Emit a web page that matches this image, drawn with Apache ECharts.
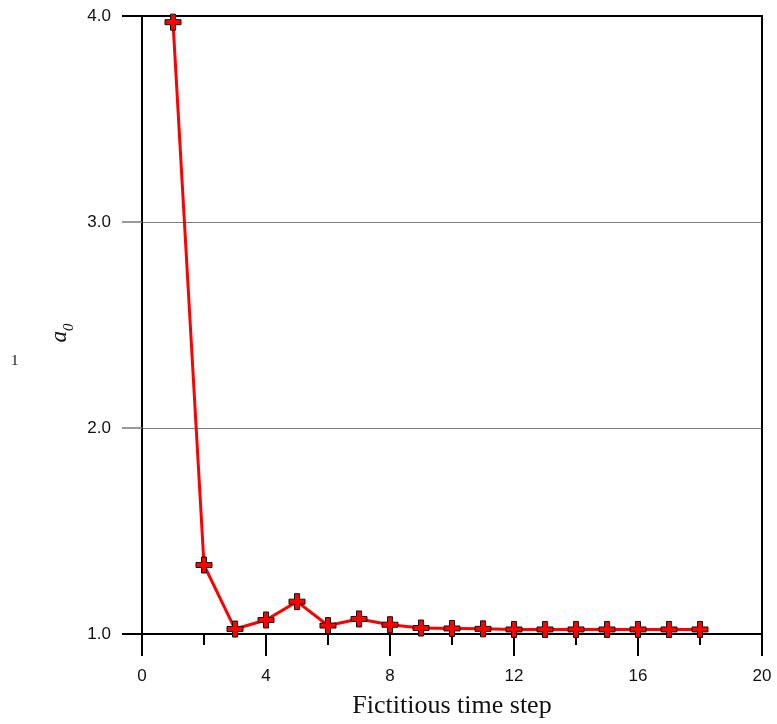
<!DOCTYPE html>
<html>
<head>
<meta charset="utf-8">
<script src="https://cdn.jsdelivr.net/npm/echarts@6/dist/echarts.min.js"></script>
<style>
  html, body { margin: 0; padding: 0; background: #fff; }
  #main { width: 777px; height: 724px; }
</style>
</head>
<body>
<div id="main"></div>
<script>
// fictitious time steps and the a0 value at each
var steps = [1, 2, 3, 4, 5, 6, 7, 8, 9, 10, 11, 12, 13, 14, 15, 16, 17, 18];
var a0Values = [3.97, 1.335, 1.024, 1.068, 1.157, 1.041, 1.073, 1.045, 1.029, 1.027,
                1.025, 1.022, 1.022, 1.022, 1.022, 1.022, 1.022, 1.022];
var xTicks = [0, 4, 8, 12, 16, 20];
var yTicks = [1.0, 2.0, 3.0, 4.0];

var chartDom = document.getElementById('main');
var myChart = echarts.init(chartDom);

var seriesData = steps.map(function (s, i) { return [s, a0Values[i]]; });
var plusPath = 'path://M5.5,0H10.5V5.5H16V10.5H10.5V16H5.5V10.5H0V5.5H5.5Z';
var labelFont = { fontFamily: 'Liberation Sans', fontSize: 17, color: '#111' };

var option = {
    animation: false,
    backgroundColor: '#fff',
    title: {
        text: '1',
        left: 6,
        top: 349,
        textStyle: { fontFamily: 'Liberation Serif', fontSize: 15, fontWeight: 'normal', color: '#111' }
    },
    grid: { left: 142, right: 15, top: 16, bottom: 89, containLabel: false },
    xAxis: [
        {
            type: 'value',
            position: 'bottom',
            min: xTicks[0],
            max: xTicks[xTicks.length - 1],
            interval: 4,
            name: 'Fictitious time step',
            nameLocation: 'middle',
            nameGap: 59,
            nameTextStyle: { fontFamily: 'Liberation Serif', fontSize: 26, color: '#111' },
            axisLine: { show: true, lineStyle: { color: '#000', width: 2 } },
            axisTick: { show: true, length: 22, lineStyle: { color: '#000', width: 2 } },
            minorTick: { show: true, splitNumber: 2, length: 11, lineStyle: { color: '#000', width: 2 } },
            axisLabel: Object.assign({ margin: 34, showMinLabel: true, showMaxLabel: true }, labelFont),
            splitLine: { show: false }
        },
        {
            type: 'value',
            position: 'top',
            min: 0,
            max: 20,
            axisLine: { show: true, onZero: false, lineStyle: { color: '#000', width: 2 } },
            axisTick: { show: false },
            axisLabel: { show: false },
            splitLine: { show: false }
        }
    ],
    yAxis: [
        {
            type: 'value',
            position: 'left',
            min: yTicks[0],
            max: yTicks[yTicks.length - 1],
            interval: 1,
            name: '{a|a}{s|0}',
            nameLocation: 'middle',
            nameRotate: 90,
            nameGap: 61,
            nameTextStyle: {
                padding: [0, 16, 0, 0],
                rich: {
                    a: { fontFamily: 'Liberation Serif', fontStyle: 'italic', fontSize: 23, color: '#111', lineHeight: 24, verticalAlign: 'bottom' },
                    s: { fontFamily: 'Liberation Serif', fontStyle: 'italic', fontSize: 15, color: '#111', lineHeight: 24, verticalAlign: 'bottom', padding: [0, 0, -5, 0] }
                }
            },
            axisLine: { show: true, onZero: false, lineStyle: { color: '#000', width: 2 } },
            axisTick: { show: true, length: 20, lineStyle: { color: '#7a7a7a', width: 1.5 } },
            axisLabel: Object.assign({
                margin: 31,
                formatter: function (v) { return v.toFixed(1); }
            }, labelFont),
            splitLine: { show: true, lineStyle: { color: '#7a7a7a', width: 1.2 } }
        },
        {
            // black tick marks at the ends of the y range (frame extensions)
            type: 'value',
            position: 'left',
            min: 1,
            max: 4,
            interval: 3,
            axisLine: { show: false },
            axisTick: { show: true, length: 20, lineStyle: { color: '#000', width: 2 } },
            axisLabel: { show: false },
            splitLine: { show: false }
        },
        {
            type: 'value',
            position: 'right',
            min: 1,
            max: 4,
            axisLine: { show: true, onZero: false, lineStyle: { color: '#000', width: 2 } },
            axisTick: { show: false },
            axisLabel: { show: false },
            splitLine: { show: false }
        }
    ],
    series: [
        {
            type: 'line',
            xAxisIndex: 0,
            yAxisIndex: 0,
            data: seriesData,
            symbol: plusPath,
            symbolSize: 16,
            showAllSymbol: true,
            lineStyle: { color: '#ff0000', width: 3 },
            itemStyle: { color: '#ff0000', borderColor: '#111', borderWidth: 1 },
            z: 5
        }
    ]
};

myChart.setOption(option);
</script>
</body>
</html>
